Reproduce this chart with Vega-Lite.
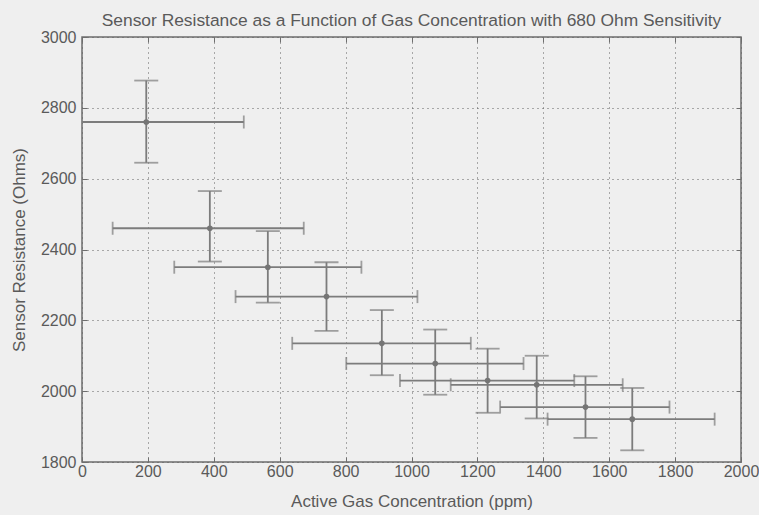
{
  "$schema": "https://vega.github.io/schema/vega-lite/v6.json",
  "width": 659,
  "height": 425,
  "autosize": {"type": "none"},
  "padding": {"left": 82, "top": 37, "right": 18, "bottom": 53},
  "background": "#efefef",
  "title": {
    "text": "Sensor Resistance as a Function of Gas Concentration with 680 Ohm Sensitivity",
    "font": "Liberation Sans",
    "fontSize": 17.4,
    "fontWeight": "normal",
    "color": "#5a5a5a",
    "baseline": "alphabetic",
    "offset": -14,
    "anchor": "middle"
  },
  "data": {
    "values": [
      {"conc": 195, "res": 2760, "conc_lo": -101, "conc_hi": 491, "res_lo": 2645, "res_hi": 2877},
      {"conc": 388, "res": 2460, "conc_lo": 93, "conc_hi": 673, "res_lo": 2366, "res_hi": 2565},
      {"conc": 564, "res": 2350, "conc_lo": 280, "conc_hi": 848, "res_lo": 2250, "res_hi": 2452},
      {"conc": 742, "res": 2267, "conc_lo": 466, "conc_hi": 1018, "res_lo": 2170, "res_hi": 2364},
      {"conc": 910, "res": 2135, "conc_lo": 638, "conc_hi": 1180, "res_lo": 2045, "res_hi": 2229},
      {"conc": 1072, "res": 2078, "conc_lo": 802, "conc_hi": 1340, "res_lo": 1990, "res_hi": 2174},
      {"conc": 1231, "res": 2030, "conc_lo": 965, "conc_hi": 1494, "res_lo": 1939, "res_hi": 2120},
      {"conc": 1380, "res": 2018, "conc_lo": 1119, "conc_hi": 1641, "res_lo": 1923, "res_hi": 2100},
      {"conc": 1528, "res": 1955, "conc_lo": 1269, "conc_hi": 1783, "res_lo": 1868, "res_hi": 2042},
      {"conc": 1670, "res": 1921, "conc_lo": 1413, "conc_hi": 1920, "res_lo": 1833, "res_hi": 2009}
    ]
  },
  "resolve": {"axis": {"x": "independent", "y": "independent"}},
  "layer": [
    {
      "mark": {"type": "rule", "color": "#7c7c7c", "strokeWidth": 1.8, "clip": true},
      "encoding": {
        "x": {
          "field": "conc_lo",
          "type": "quantitative",
          "scale": {"domain": [0, 2000], "nice": false},
          "axis": {
            "title": "Active Gas Concentration (ppm)",
            "grid": true,
            "values": [0, 200, 400, 600, 800, 1000, 1200, 1400, 1600, 1800, 2000]
          }
        },
        "x2": {"field": "conc_hi"},
        "y": {
          "field": "res",
          "type": "quantitative",
          "scale": {"domain": [1800, 3000], "nice": false, "zero": false},
          "axis": {
            "title": "Sensor Resistance (Ohms)",
            "grid": true,
            "values": [1800, 2000, 2200, 2400, 2600, 2800, 3000]
          }
        }
      }
    },
    {
      "mark": {"type": "rule", "color": "#7c7c7c", "strokeWidth": 1.8, "clip": true},
      "encoding": {
        "x": {"field": "conc", "type": "quantitative", "axis": null},
        "y": {"field": "res_lo", "type": "quantitative", "axis": null},
        "y2": {"field": "res_hi"}
      }
    },
    {
      "mark": {"type": "tick", "orient": "vertical", "color": "#7c7c7c", "size": 13, "thickness": 1.8, "clip": true},
      "encoding": {
        "x": {"field": "conc_lo", "type": "quantitative", "axis": null},
        "y": {"field": "res", "type": "quantitative", "axis": null}
      }
    },
    {
      "mark": {"type": "tick", "orient": "vertical", "color": "#7c7c7c", "size": 13, "thickness": 1.8, "clip": true},
      "encoding": {
        "x": {"field": "conc_hi", "type": "quantitative", "axis": null},
        "y": {"field": "res", "type": "quantitative", "axis": null}
      }
    },
    {
      "mark": {"type": "tick", "orient": "horizontal", "color": "#7c7c7c", "size": 24, "thickness": 1.8, "clip": true},
      "encoding": {
        "x": {"field": "conc", "type": "quantitative", "axis": null},
        "y": {"field": "res_lo", "type": "quantitative", "axis": null}
      }
    },
    {
      "mark": {"type": "tick", "orient": "horizontal", "color": "#7c7c7c", "size": 24, "thickness": 1.8, "clip": true},
      "encoding": {
        "x": {"field": "conc", "type": "quantitative", "axis": null},
        "y": {"field": "res_hi", "type": "quantitative", "axis": null}
      }
    },
    {
      "mark": {"type": "point", "filled": true, "color": "#757575", "size": 32, "opacity": 1},
      "encoding": {
        "x": {
          "field": "conc",
          "type": "quantitative",
          "axis": {
            "orient": "top",
            "labels": false,
            "grid": false,
            "title": null,
            "values": [0, 200, 400, 600, 800, 1000, 1200, 1400, 1600, 1800, 2000]
          }
        },
        "y": {
          "field": "res",
          "type": "quantitative",
          "axis": {
            "orient": "right",
            "labels": false,
            "grid": false,
            "title": null,
            "values": [1800, 2000, 2200, 2400, 2600, 2800, 3000]
          }
        }
      }
    }
  ],
  "config": {
    "view": {"stroke": "#6e6e6e", "strokeWidth": 1.5, "fill": "#efefef"},
    "axis": {
      "domain": false,
      "grid": true,
      "gridColor": "#5e5e5e",
      "gridDash": [1, 4],
      "gridWidth": 1,
      "gridOpacity": 1,
      "ticks": true,
      "tickSize": -5,
      "tickColor": "#6e6e6e",
      "format": "d",
      "labelFont": "Liberation Sans",
      "labelFontSize": 16,
      "labelColor": "#5a5a5a",
      "titleFont": "Liberation Sans",
      "titleFontSize": 17,
      "titleFontWeight": "normal",
      "titleColor": "#5a5a5a",
      "labelFlush": false
    },
    "axisX": {"labelPadding": 6, "titlePadding": 14},
    "axisY": {"labelPadding": 11, "titlePadding": 12}
  }
}
